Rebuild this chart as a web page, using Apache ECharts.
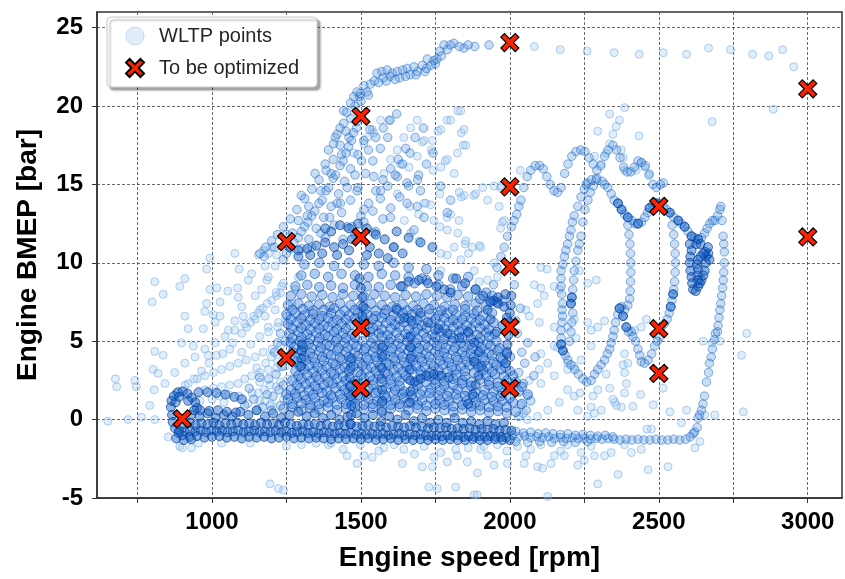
<!DOCTYPE html>
<html>
<head>
<meta charset="utf-8">
<script src="https://cdn.jsdelivr.net/npm/echarts@6.0.0/dist/echarts.min.js"></script>
<style>
html,body{margin:0;padding:0;background:#fff;}
#chart{width:845px;height:579px;}
</style>
</head>
<body>
<div id="chart"></div>
<script>
// ---------------- DATA ----------------
const xTickLabels = [1000, 1500, 2000, 2500, 3000];
const xTickMarks = [750, 1000, 1250, 1500, 1750, 2000, 2250, 2500, 2750, 3000];
const yTickLabels = [-5, 0, 5, 10, 15, 20, 25];

// points to be optimized [rpm, bar]
const optimizePts = [[900,0.05],[1250,11.35],[1250,3.95],[1500,19.35],[1500,11.65],[1500,5.85],[1500,2.0],
  [2000,24.05],[2000,14.85],[2000,9.75],[2000,5.9],[2000,2.0],[2500,13.6],[2500,5.8],[2500,2.95],[3000,21.1],[3000,11.65]];

// WLTP operating points, grouped by region
const bandLow = [
 [930,0.3],[958,0.2],[985,0.4],[1012,0.1],[1040,0.3],[1068,0.2],[1095,0.5],[1122,0.3],[1150,0.6],[1178,0.2],[1205,0.4],[1232,0.1],[1260,0.3],[1290,0.5],[1318,0.2],[1345,0.4],[1372,0.1],[1400,0.3],[1428,0.0],[1455,0.2],[1485,0.4],[1512,0.1],[1540,0.3],[1568,-0.1],[1595,0.2],[1622,0.0],[1650,0.3],[1678,-0.1],[1705,0.1],[1732,-0.2],[1760,0.0],[1788,-0.2],[1815,0.1],[1842,-0.2],[1870,-0.1],[1898,-0.3],[1925,-0.1],[1952,-0.3],[1980,-0.2],
 [905,-0.3],[925,-0.2],[945,-0.35],[965,-0.25],[985,-0.3],[1005,-0.2],[1025,-0.35],[1045,-0.25],[1065,-0.3],[1085,-0.2],[1105,-0.3],[1125,-0.25],[1145,-0.35],[1165,-0.2],[1185,-0.3],[1205,-0.25],[1225,-0.35],[1245,-0.2],[1265,-0.3],[1285,-0.4],[1305,-0.3],[1325,-0.35],[1345,-0.3],[1365,-0.4],[1385,-0.3],[1405,-0.45],[1425,-0.35],[1445,-0.4],[1465,-0.3],[1485,-0.45],[1505,-0.4],[1525,-0.35],[1545,-0.45],[1565,-0.4],[1585,-0.5],[1605,-0.4],[1625,-0.45],[1645,-0.5],[1665,-0.4],[1685,-0.5],[1705,-0.45],[1725,-0.55],[1745,-0.5],[1765,-0.55],[1785,-0.5],[1805,-0.6],[1825,-0.55],[1845,-0.6],[1865,-0.55],[1885,-0.65],[1905,-0.6],[1925,-0.65],[1945,-0.6],[1965,-0.7],[1985,-0.65],[2005,-0.7],
 [890,-0.7],[908,-0.75],[926,-0.7],[944,-0.75],[962,-0.7],[980,-0.8],[998,-0.7],[1016,-0.75],[1034,-0.7],[1052,-0.8],[1070,-0.75],[1088,-0.7],[1106,-0.8],[1124,-0.75],[1142,-0.7],[1160,-0.8],[1178,-0.75],[1196,-0.8],[1214,-0.7],[1232,-0.8],[1250,-0.75],[1268,-0.85],[1286,-0.8],[1304,-0.75],[1322,-0.85],[1340,-0.8],[1358,-0.9],[1376,-0.8],[1394,-0.85],[1412,-0.9],[1430,-0.85],[1448,-0.9],[1466,-0.85],[1484,-0.95],[1502,-0.9],[1520,-0.95],[1538,-0.9],[1556,-0.95],[1574,-0.9],[1592,-1.0],[1610,-0.95],[1628,-0.9],[1646,-1.0],[1664,-0.95],[1682,-1.0],[1700,-0.95],[1718,-1.0],[1736,-1.05],[1754,-1.0],[1772,-1.05],[1790,-1.0],[1808,-1.05],[1826,-1.0],[1844,-1.1],[1862,-1.05],[1880,-1.1],[1898,-1.05],[1916,-1.1],[1934,-1.05],[1952,-1.1],[1970,-1.1],[1988,-1.15],
 [900,-1.0],[925,-1.1],[950,-1.05],[975,-1.15],[1000,-1.1],[1025,-1.05],[1050,-1.15],[1075,-1.1],[1100,-1.2],[1125,-1.1],[1150,-1.15],[1175,-1.1],[1200,-1.2],[1225,-1.15],[1250,-1.1],[1275,-1.2],[1300,-1.15],[1325,-1.2],[1350,-1.15],[1375,-1.2],[1400,-1.25],[1425,-1.2],[1450,-1.25],[1475,-1.2],[1500,-1.25],[1525,-1.2],[1550,-1.3],[1575,-1.25],[1600,-1.2],[1625,-1.3],[1650,-1.25],[1675,-1.3],[1700,-1.25],[1725,-1.3],[1750,-1.25],[1775,-1.3],[1800,-1.25],[1825,-1.3],[1850,-1.3],[1875,-1.25],[1900,-1.3],[1925,-1.3],[1950,-1.25],[1975,-1.3],[2000,-1.3]
];

const bandRight = [
 [2010,-1.0],[2030,-1.1],[2050,-1.05],[2070,-1.15],[2090,-1.1],[2110,-1.15],[2130,-1.1],[2150,-1.2],[2170,-1.15],[2190,-1.2],[2210,-1.15],[2230,-1.2],[2250,-1.2],[2270,-1.25],[2290,-1.2],[2310,-1.25],[2330,-1.2],[2350,-1.25],[2370,-1.3],[2390,-1.25],[2410,-1.3],[2430,-1.25],[2450,-1.3],[2470,-1.3],[2490,-1.25],[2510,-1.3],[2530,-1.3],[2550,-1.25],[2570,-1.3],[2590,-1.25],[2605,-1.1],[2615,-0.9],
 [2020,-0.75],[2045,-0.85],[2070,-0.8],[2095,-0.9],[2120,-0.85],[2145,-0.9],[2170,-0.95],[2195,-0.9],[2220,-1.0],[2245,-0.95],[2270,-1.0],[2295,-1.05],[2320,-1.0],[2345,-1.1],[2020,-1.4],[2060,-1.45],[2100,-1.4],[2140,-1.45],[2180,-1.4],[2220,-1.45],[2260,-1.4]
];

const loopIdle = [
 [862,0.8],[864,1.2],[872,1.5],[886,1.75],[902,1.8],[918,1.65],[932,1.4],[944,1.1],[950,0.75],[866,0.3],[868,-0.15],[876,-0.55],[888,-0.85],
 [878,1.1],[890,1.45],[920,1.2],[940,0.6],[955,1.75],[985,1.75],[1015,1.7],[1045,1.6],[1075,1.45],[1100,1.3],
 [960,0.6],[990,0.55],[1020,0.6],[1050,0.5],[1080,0.45],[880,-1.2],[905,-1.3],[930,-1.25]
];

const fanLeft = [
 [650,-0.1],[676,2.6],[680,2.1],[718,0.0],[763,0.15],[741,2.5],[746,2.1],[808,4.35],[836,4.1],[802,3.2],[819,2.95],[806,1.9],[842,2.3],[791,0.9],[808,0.0],[898,4.9],[937,4.7],[987,4.1],
 [808,8.8],[836,8.0],[799,7.5],[892,8.5],[909,9.0],[909,6.6],[920,5.8],[971,5.8],[993,10.3],[982,9.6],[993,8.3],[1016,8.4],[1053,8.2],[1088,7.8],[1086,8.4],[1077,10.6],[1091,9.6],[1027,7.5],[982,7.4],[976,6.9],[1004,6.7],[1027,6.6],[1010,6.2],[1055,5.7],[1077,6.3],[1100,7.2],[1122,8.9],[1133,9.3],[1145,7.9],[1167,8.3],[1184,8.9],[1161,7.0],[1105,6.6],[1116,5.9],[1145,6.4],[1178,6.6],[1212,7.0],[1217,7.9],[1234,8.5],[1189,5.9],[1223,6.2],[1251,6.6],[1268,7.4],[1279,8.3],[1290,9.1],[1156,10.5],[1173,10.8],[1201,11.0],[1189,10.6],[1217,10.5],[1178,9.8],[1212,9.8],[1189,9.1],
 [875,3.0],[909,3.6],[943,4.0],[976,4.5],[1010,4.9],[1044,5.3],[1077,5.7],[1110,6.1],[1140,6.6],[1170,7.1],[1200,7.6],[1230,8.1],
 [920,2.3],[950,2.6],[976,2.8],[1005,3.0],[1032,3.2],[1060,3.4],[1088,3.6],[1115,3.8],[1145,4.0],[1172,4.3],[1201,4.5],[1230,4.7],[1257,4.9],
 [976,1.9],[1005,2.0],[1032,2.1],[1060,2.2],[1088,2.3],[1110,2.6],[1133,2.8],[1160,3.0],[1189,3.2],[1218,3.3],[1246,3.4],
 [880,1.7],[910,2.2],[940,2.6],[965,3.1],[990,3.6],[1015,4.1],[1036,4.2],[1070,4.9],[1100,5.5],[1130,6.2],[1155,6.8],[1185,7.4],[1215,8.1],[1240,8.7],
 [960,1.2],[1000,1.3],[1040,1.1],[1120,1.0],[1160,1.2],[1200,1.0],[1240,1.3],[1135,1.7],[1175,1.9],[1215,2.1],[1100,4.3],[1130,4.8],[1160,5.3],[1190,5.6],[1220,5.9],[1245,6.2],[1060,4.5],[1200,4.0],[1240,4.1],[1180,3.6],[1220,3.7],[1150,3.3],[1255,2.6],[1230,2.4],[1195,2.2],[1160,2.4],[1090,1.5],[1055,1.6],[1025,1.5],[1156,1.7],[1178,1.2],[1195,0.9]
];

const coreEdge = [
 [1110,0.9],[1140,1.3],[1170,0.8],[1205,1.5],[1230,0.9],[1125,2.0],[1160,2.7],[1190,2.6],[1215,2.9],[1240,2.2],[1185,1.6],[1225,1.9],[1150,0.6],[1200,0.6],[1235,3.4],[1210,4.3],[1245,5.0],[1230,5.5],[1220,4.9],
 [2030,3.0],[2050,3.6],[2040,4.3],[2060,4.9],[2025,5.5],[2045,2.3],[2070,1.2],[2080,2.8],[2085,4.0],[2030,0.2],[2055,0.6],[2020,6.3],[2035,7.1],[2015,8.6]
];

const massCore = [
 [1240,0.7],[1270,0.8],[1300,0.6],[1330,0.75],[1360,0.65],[1390,0.8],[1420,0.6],[1450,0.7],[1480,0.8],[1510,0.65],[1540,0.75],[1570,0.6],[1600,0.7],[1630,0.8],[1660,0.6],[1690,0.7],[1720,0.55],[1750,0.7],[1780,0.6],[1810,0.5],[1840,0.65],[1870,0.5],[1900,0.6],[1930,0.45],[1960,0.55],[1990,0.4],[2020,0.5],
 [1255,1.3],[1285,1.4],[1315,1.25],[1345,1.35],[1375,1.2],[1405,1.4],[1435,1.3],[1465,1.25],[1495,1.4],[1525,1.3],[1555,1.2],[1585,1.35],[1615,1.25],[1645,1.4],[1675,1.3],[1705,1.2],[1735,1.35],[1765,1.25],[1795,1.15],[1825,1.3],[1855,1.2],[1885,1.1],[1915,1.25],[1945,1.15],[1975,1.2],[2010,1.1],[2040,1.0],
 [1265,1.9],[1295,2.0],[1325,1.85],[1355,1.95],[1385,1.8],[1415,2.0],[1445,1.9],[1475,1.85],[1525,1.95],[1555,1.85],[1585,2.0],[1615,1.9],[1645,1.8],[1675,1.95],[1705,1.85],[1735,2.0],[1765,1.9],[1795,1.8],[1825,1.95],[1855,1.85],[1885,1.75],[1915,1.9],[1945,1.8],[1975,1.7],[2030,1.8],[2060,1.6],
 [1270,2.5],[1300,2.6],[1330,2.45],[1360,2.55],[1390,2.4],[1420,2.6],[1450,2.5],[1480,2.45],[1510,2.6],[1540,2.5],[1570,2.4],[1600,2.55],[1630,2.45],[1660,2.6],[1690,2.5],[1720,2.4],[1750,2.55],[1780,2.45],[1810,2.6],[1840,2.5],[1870,2.4],[1900,2.55],[1930,2.45],[1960,2.35],[1990,2.5],[2020,2.4],
 [1280,3.1],[1310,3.2],[1340,3.05],[1370,3.15],[1400,3.0],[1430,3.2],[1460,3.1],[1490,3.05],[1520,3.2],[1550,3.1],[1580,3.0],[1610,3.15],[1640,3.05],[1670,3.2],[1700,3.1],[1730,3.0],[1760,3.15],[1790,3.05],[1820,3.2],[1850,3.1],[1880,3.0],[1910,3.15],[1940,3.05],[1970,3.2],[2000,3.1],
 [1285,3.7],[1315,3.8],[1345,3.65],[1375,3.75],[1405,3.6],[1435,3.8],[1465,3.7],[1495,3.65],[1525,3.8],[1555,3.7],[1585,3.6],[1615,3.75],[1645,3.65],[1675,3.8],[1705,3.7],[1735,3.6],[1765,3.75],[1795,3.65],[1825,3.8],[1855,3.7],[1885,3.6],[1915,3.75],[1945,3.65],[1975,3.8],
 [1270,4.3],[1300,4.4],[1330,4.25],[1360,4.35],[1390,4.2],[1420,4.4],[1450,4.3],[1480,4.25],[1510,4.4],[1540,4.3],[1570,4.2],[1600,4.35],[1630,4.25],[1660,4.4],[1690,4.3],[1720,4.2],[1750,4.35],[1780,4.25],[1810,4.4],[1840,4.3],[1870,4.2],[1900,4.35],[1930,4.25],[1960,4.4],[1990,4.3],
 [1265,4.9],[1295,5.0],[1325,4.85],[1355,4.95],[1385,4.8],[1415,5.0],[1445,4.9],[1475,4.85],[1505,5.0],[1535,4.9],[1565,4.8],[1595,4.95],[1625,4.85],[1655,5.0],[1685,4.9],[1715,4.8],[1745,4.95],[1775,4.85],[1805,5.0],[1835,4.9],[1865,4.8],[1895,4.95],[1925,4.85],[1955,5.0],
 [1260,5.5],[1290,5.6],[1320,5.45],[1350,5.55],[1380,5.4],[1410,5.6],[1440,5.5],[1470,5.45],[1530,5.6],[1560,5.5],[1590,5.4],[1620,5.55],[1650,5.45],[1680,5.6],[1710,5.5],[1740,5.4],[1770,5.55],[1800,5.45],[1830,5.6],[1860,5.5],[1890,5.4],[1920,5.55],[1950,5.45],
 [1255,6.1],[1285,6.2],[1315,6.05],[1345,6.15],[1375,6.0],[1405,6.2],[1435,6.1],[1465,6.05],[1495,6.2],[1525,6.1],[1555,6.0],[1585,6.15],[1615,6.05],[1645,6.2],[1675,6.1],[1705,6.0],[1735,6.15],[1765,6.05],[1795,6.2],[1825,6.1],[1855,6.0],[1885,6.15],[1915,6.05],[1945,6.2],
 [1250,6.7],[1280,6.8],[1310,6.65],[1340,6.75],[1370,6.6],[1400,6.8],[1430,6.7],[1460,6.65],[1490,6.8],[1520,6.7],[1550,6.6],[1580,6.75],[1610,6.65],[1640,6.8],[1670,6.7],[1700,6.6],[1730,6.75],[1760,6.65],[1790,6.8],[1820,6.7],[1850,6.6],[1880,6.75],[1910,6.65],[1940,6.8],
 [1255,7.3],[1290,7.4],[1325,7.25],[1360,7.35],[1395,7.2],[1430,7.4],[1465,7.3],[1500,7.25],[1535,7.4],[1570,7.3],[1605,7.2],[1640,7.35],[1675,7.25],[1710,7.4],[1745,7.3],[1780,7.2],[1815,7.35],[1850,7.25],[1885,7.4],[1920,7.3],[1955,7.5],
 [1265,7.9],[1300,8.0],[1335,7.85],[1370,7.95],[1405,7.8],[1440,8.0],[1475,7.9],[1510,7.85],[1545,8.0],[1580,7.9],[1615,7.8],[1650,7.95],[1685,7.85],[1720,8.0],[1755,7.9],[1790,7.8],[1825,7.95],[1860,7.85],[1900,7.7],[1940,7.9],[1975,7.6],
 [1280,8.5],[1320,8.6],[1360,8.45],[1400,8.55],[1440,8.4],[1480,8.6],[1520,8.5],[1560,8.45],[1600,8.6],[1640,8.5],[1680,8.7],[1720,8.9],[1760,8.6],[1800,8.3],[1840,8.5],[1885,8.3],[1920,8.1],
 [1300,9.2],[1345,9.3],[1390,9.1],[1435,9.3],[1480,9.2],[1525,9.1],[1570,9.3],[1615,9.2],[1660,9.1],[1705,9.0],[1760,9.2],[1810,9.0],[1860,9.1],
 [1310,9.9],[1360,10.0],[1410,9.8],[1460,10.0],[1510,9.9],[1560,9.8],[1610,10.0],[1660,9.7],[1720,9.6]
];

const massCoreFill = [
 [1270,1.0],[1300,1.05],[1330,0.95],[1360,1.0],[1390,1.1],[1420,0.95],[1450,1.0],[1480,1.05],[1510,0.95],[1540,1.0],[1570,1.1],[1600,0.95],[1630,1.0],[1660,1.05],[1690,0.95],[1720,0.9],[1750,1.0],[1780,0.95],[1810,0.85],[1840,0.95],[1870,0.85],[1900,0.9],[1930,0.8],[1960,0.85],[1990,0.8],
 [1250,1.6],[1280,1.65],[1310,1.55],[1340,1.6],[1370,1.7],[1400,1.55],[1430,1.6],[1460,1.65],[1490,1.55],[1520,1.6],[1550,1.7],[1580,1.55],[1610,1.6],[1640,1.65],[1670,1.55],[1700,1.6],[1730,1.7],[1760,1.55],[1790,1.5],[1820,1.6],[1850,1.5],[1880,1.45],[1910,1.55],[1940,1.45],[1970,1.5],[2000,1.4],
 [1285,2.2],[1315,2.25],[1345,2.15],[1375,2.2],[1405,2.3],[1435,2.15],[1465,2.2],[1495,2.25],[1540,2.2],[1600,2.25],[1630,2.15],[1690,2.2],[1750,2.25],[1780,2.15],[1810,2.2],[1840,2.3],[1870,2.15],[1930,2.2],[1960,2.1],[1990,2.15],[2040,2.1],
 [1290,2.8],[1320,2.85],[1350,2.75],[1380,2.8],[1410,2.9],[1440,2.75],[1500,2.85],[1530,2.75],[1560,2.8],[1590,2.9],[1620,2.75],[1650,2.8],[1700,2.85],[1730,2.75],[1760,2.8],[1820,2.85],[1850,2.75],[1920,2.8],[1950,2.9],[1980,2.75],[2010,2.8],
 [1295,3.4],[1325,3.45],[1355,3.35],[1385,3.4],[1415,3.5],[1445,3.35],[1475,3.4],[1505,3.45],[1535,3.35],[1565,3.4],[1595,3.5],[1625,3.35],[1655,3.4],[1685,3.45],[1715,3.35],[1745,3.4],[1775,3.5],[1805,3.35],[1835,3.4],[1865,3.45],[1895,3.35],[1925,3.4],[1955,3.5],[1985,3.35],
 [1280,4.0],[1310,4.05],[1340,3.95],[1370,4.0],[1400,4.1],[1430,3.95],[1460,4.0],[1490,4.05],[1520,3.95],[1550,4.0],[1580,4.1],[1610,3.95],[1640,4.0],[1670,4.05],[1700,3.95],[1730,4.0],[1760,4.1],[1790,3.95],[1820,4.0],[1850,4.05],[1880,3.95],[1910,4.0],[1940,4.1],[1970,3.95],[2000,4.0],
 [1275,4.6],[1305,4.65],[1335,4.55],[1365,4.6],[1395,4.7],[1425,4.55],[1455,4.6],[1485,4.65],[1515,4.55],[1545,4.6],[1575,4.7],[1605,4.55],[1635,4.6],[1665,4.65],[1695,4.55],[1725,4.6],[1755,4.7],[1785,4.55],[1815,4.6],[1845,4.65],[1875,4.55],[1905,4.6],[1935,4.7],[1965,4.55],
 [1270,5.2],[1300,5.25],[1330,5.15],[1360,5.2],[1390,5.3],[1420,5.15],[1450,5.2],[1480,5.25],[1540,5.2],[1570,5.3],[1600,5.15],[1630,5.2],[1660,5.25],[1690,5.15],[1720,5.2],[1750,5.3],[1780,5.15],[1810,5.2],[1840,5.25],[1870,5.15],[1900,5.2],[1930,5.3],
 [1270,5.8],[1300,5.85],[1330,5.75],[1360,5.8],[1390,5.9],[1420,5.75],[1450,5.8],[1540,5.85],[1570,5.75],[1600,5.8],[1630,5.9],[1660,5.75],[1690,5.8],[1720,5.85],[1750,5.75],[1780,5.8],[1810,5.9],[1840,5.75],[1870,5.8],[1900,5.85],[1930,5.75],
 [1265,6.4],[1300,6.45],[1330,6.35],[1360,6.4],[1390,6.5],[1420,6.35],[1450,6.4],[1480,6.45],[1510,6.35],[1540,6.4],[1570,6.5],[1600,6.35],[1630,6.4],[1660,6.45],[1690,6.35],[1750,6.4],[1780,6.5],[1810,6.35],[1840,6.4],[1870,6.45],[1900,6.35],
 [1270,7.0],[1305,7.05],[1340,6.95],[1375,7.0],[1410,7.1],[1445,6.95],[1480,7.0],[1515,7.05],[1550,6.95],[1585,7.0],[1620,7.1],[1655,6.95],[1690,7.0],[1730,7.05],[1770,6.95],[1810,7.0],[1850,7.05],[1890,6.95]
];

const darkStreaks = [
 [1465,-0.3],[1467,0.3],[1468,0.9],[1466,1.5],[1464,2.1],[1462,2.7],[1465,3.3],[1468,3.9],
 [1570,0.5],[1572,1.2],[1571,1.9],[1569,2.6],[1570,3.3],[1572,4.0],[1571,4.6],
 [1665,1.1],[1667,1.8],[1666,2.5],[1664,3.2],[1666,3.9],[1668,4.6],[1667,5.3],
 [1680,2.4],[1700,2.6],[1720,2.8],[1745,2.9],[1770,2.8],[1795,2.7],
 [1860,1.0],[1875,1.6],[1885,2.2],[1895,2.8],[1905,3.4],[1880,3.7],
 [1985,3.6],[1990,4.2],[1992,4.8],[1995,5.4],[1998,6.2],[2000,6.8],[2003,7.3],[1980,7.2],[1960,7.4],[1945,7.6],[1990,6.5],[1975,6.0],[1955,5.6],[1935,6.4],[1925,7.0],[2005,7.9],
 [1299,3.4],[1300,3.9],[1301,4.4],[1302,4.8],
 [1500,6.0],[1505,6.6],[1508,7.2],[1505,7.8],[1500,8.4],[1495,9.0],
 [1634,8.5],[1660,8.8],[1694,8.9],[1725,8.7],[1753,8.5],[1780,8.3],[1801,8.1],[1620,7.0],[1645,6.5],[1670,6.3],[1700,6.8],[1725,6.2],[1760,5.8],[1790,5.5],[1830,5.2],[1860,5.6],[1880,4.9],[1895,4.3],
 [1820,9.0],[1850,8.7],[1885,8.3],[1910,7.9],[1935,7.5],[1960,7.8],[1985,8.0],
 [1260,11.0],[1290,10.8],[1320,10.9],[1350,11.1],[1380,11.3],[1410,11.0],[1440,11.2],[1470,11.5],[1530,11.0],[1560,10.6],[1590,10.3],[1290,10.4],[1330,10.5],[1370,10.6],[1420,10.5],[1460,10.8],[1520,10.5],[1400,12.0],[1430,12.4],[1460,12.2],[1490,12.5],[1520,12.2],[1380,12.2],[1550,11.8],[1580,11.5],[1610,11.0],[1640,10.6],[1620,12.0],[1660,11.6],[1700,11.3],[1740,11.0]
];

const streaksUpper = [
 [1161,10.6],[1180,11.0],[1200,11.4],[1220,11.8],[1240,12.3],[1263,12.8],[1285,13.4],[1311,14.1],[1335,14.7],[1359,15.3],[1383,15.9],[1407,16.6],[1430,17.5],[1450,18.4],[1466,19.2],[1480,20.0],[1495,20.6],
 [1175,10.4],[1210,11.0],[1250,11.8],[1290,12.7],[1325,13.6],[1365,14.6],[1400,15.7],[1435,16.9],[1460,18.0],[1485,19.0],
 [1239,10.2],[1265,10.9],[1290,11.6],[1311,12.3],[1335,13.0],[1359,13.8],[1383,14.6],[1407,15.4],[1430,16.2],[1450,17.0],[1468,17.8],[1485,18.6],[1500,19.3],
 [1335,11.0],[1365,11.9],[1395,12.9],[1420,13.8],[1454,14.8],[1480,15.6],[1502,16.5],[1525,17.2],[1550,18.0],[1575,18.6],[1598,19.1],[1620,19.5],
 [1440,11.5],[1470,12.3],[1500,13.0],[1526,13.8],[1550,14.6],[1574,15.3],[1600,16.0],[1625,16.6],[1650,17.3],[1682,18.0],[1710,18.6],
 [1550,12.0],[1574,12.8],[1600,13.5],[1630,14.2],[1660,14.9],[1694,15.6],[1720,16.3],[1742,17.0],
 [1431,13.8],[1487,14.6],[1543,15.5],[1453,12.3],[1510,13.4],[1566,14.6],[1622,15.5],[1543,11.9],[1599,12.9],[1655,13.8],[1700,14.6],[1611,11.0],[1678,12.1],[1712,12.9],
 [1768,14.9],[1801,14.0],[1790,13.2],[1689,13.6],[1655,15.1],[1690,15.3],
 [1442,19.7],[1414,18.0],[1391,17.2],[1380,16.3],[1346,15.7],[1300,14.3],[1320,13.0],[1270,11.9],
 [1250,10.6],[1275,11.3],[1300,12.0],[1322,12.6],[1345,13.3],[1370,14.0],[1392,14.8],[1415,15.6],[1440,16.5],[1458,17.4],[1475,18.3],
 [1300,10.9],[1325,11.5],[1350,12.2],[1375,12.9],[1400,13.6],[1425,14.4],[1445,15.2],[1465,16.0],[1490,16.9],[1510,17.8],[1530,18.5],
 [1380,11.6],[1410,12.4],[1435,13.2],[1465,14.0],[1490,14.8],[1515,15.7],[1540,16.5],[1565,17.3],[1590,18.0],
 [1480,11.8],[1510,12.6],[1540,13.3],[1565,14.1],[1590,14.9],[1615,15.6],[1640,16.3],[1665,17.0]
];

const scatterUpper = [
 [1825,19.7],[1789,19.1],[1759,18.4],[1837,18.3],[1843,17.5],[1783,16.5],[1813,15.7],[1879,14.3],[1837,14.2],[1736,17.2],[1706,17.7],[1742,15.9],[1765,14.4],[1909,14.8],[1969,14.8],[2035,15.9],[1975,12.6],[1969,12.2],[1789,12.9],[1825,11.9],[1849,11.2],[1897,11.1],[1861,10.6],[1813,11.0],[1765,12.3],[1718,13.8],[1694,13.1],[1646,12.7],[1664,13.6],[1622,14.4],
 [1521,18.0],[1538,18.5],[1566,19.1],[1594,19.1],[1577,15.7],[1599,16.6],[1622,17.2],[1644,18.0],[1667,18.6],[1689,19.1],[1712,17.8],[1740,17.8],[1768,18.5],[1801,19.1],[1835,19.7],[1846,18.5],[1852,17.5],[1824,17.0],[1790,16.6],[1768,16.1],[1689,16.8],[1661,16.1],[1633,16.3],[1510,17.6],[1543,18.3],[1476,17.0]
];

const topTrace = [
 [1442,18.9],[1452,19.6],[1465,20.2],[1476,20.6],[1487,20.9],[1498,20.8],[1510,21.3],[1520,20.9],[1532,21.4],[1545,21.6],[1554,22.1],[1570,22.2],[1575,21.8],[1588,22.3],[1598,21.9],[1605,22.1],[1622,22.2],[1630,21.8],[1640,22.3],[1655,22.4],[1665,22.0],[1678,22.5],[1690,22.2],[1706,22.6],[1715,22.2],[1723,23.0],[1735,22.6],[1745,22.9],[1755,23.0],[1765,23.5],[1770,23.2],[1779,23.9],[1812,24.0],[1846,23.7],[1882,23.8],[1930,23.9],
 [1500,20.3],[1525,20.7],[1560,21.5],[1585,21.6],[1615,21.7],[1650,21.9],[1685,22.0],[1720,22.4],[1750,22.7],[1790,23.6],[1800,23.9],[1830,23.8],[1860,23.9],[1430,18.6],[1420,18.2],[1408,17.6]
];

const topSparse = [
 [2082,23.8],[2169,23.6],[2259,23.5],[2350,23.4],[2434,23.3],[2515,23.4],[2593,23.3],[2667,23.7],[2741,23.6],[2815,23.3],[2869,23.2],[2916,23.6],[2953,22.5],
 [2295,18.4],[2335,19.5],[2385,19.9],[2368,19.1],[2357,18.7],[2346,18.2],[2335,17.6],[2323,17.0],[2307,16.3],[2284,16.8],[2374,17.2],[2380,16.7],[2385,15.9],[2433,18.1],[2441,16.4],[2453,16.1],[2469,15.7],[2424,15.9],[2679,19.0],[2884,19.8]
];

const rightTraces = [
 [2047,14.8],[2058,15.5],[2070,15.9],[2085,16.2],[2100,16.2],[2112,16.0],[2124,15.5],[2135,15.0],[2148,14.6],[2160,14.5],[2172,14.8],[2184,15.7],[2195,16.3],[2208,16.8],[2222,17.1],[2238,17.2],[2252,17.1],[2266,16.7],[2280,16.3],[2292,15.9],[2305,16.2],[2318,16.8],[2330,17.2],[2346,17.5],[2358,17.2],[2370,16.7],[2382,16.1],[2394,15.8],[2406,15.8],[2418,16.1],[2430,16.5],[2442,16.4],[2455,16.2],[2467,15.6],[2480,15.0],[2492,14.8],[2505,15.0],[2515,15.1],
 [1933,7.6],[1945,8.6],[1957,9.7],[1970,10.4],[1981,11.0],[1992,11.7],[2005,12.3],[2014,12.7],[2023,13.1],[2030,13.6],[2037,14.0],
 [2261,15.1],[2250,14.7],[2239,14.2],[2228,13.6],[2216,13.0],[2210,12.6],[2205,12.1],[2200,11.7],[2194,11.2],[2188,10.8],[2183,10.4],[2178,9.9],[2172,9.5],[2172,9.0],[2172,8.5],[2174,8.0],[2177,7.4],[2175,7.0],[2177,6.6],[2175,6.2],[2172,5.7],[2172,5.2],[2172,4.8],[2178,4.4],[2186,4.1],
 [2290,15.3],[2280,14.9],[2270,14.5],[2262,14.0],[2252,13.4],[2245,12.6],[2239,11.7],[2233,11.2],[2228,10.8],[2222,10.1],[2216,9.5],[2214,8.9],[2211,8.3],[2208,7.8],[2205,7.4],[2211,6.8],[2208,6.2],[2205,5.6],[2200,5.0],
 [2256,15.0],[2274,15.3],[2292,15.4],[2310,15.2],[2318,15.0],[2329,14.8],[2340,14.4],[2350,14.0],[2363,13.8],[2375,13.4],[2385,13.1],[2396,12.9],[2410,12.7],[2420,12.5],[2430,12.5],[2442,12.6],[2453,12.9],[2462,13.2],[2469,13.5],[2480,13.7],[2490,13.8],[2500,13.8],[2515,13.6],[2526,13.4],[2537,13.2],[2550,12.9],[2565,12.7],[2576,12.5],[2587,12.3],[2598,12.0],[2610,11.7],[2621,11.6],[2632,11.5],[2643,11.6],[2654,11.9],[2662,12.2],[2671,12.5],[2680,12.7],[2688,12.7],[2697,13.0],[2705,13.4],[2708,13.6],
 [2712,12.7],[2716,11.7],[2718,11.2],[2720,10.7],[2720,10.0],[2718,9.4],[2716,8.9],[2714,8.4],[2711,7.9],[2708,7.4],[2705,7.0],[2702,6.5],[2699,6.0],[2697,5.6],[2690,5.5],[2687,5.1],[2680,4.5],[2676,4.0],[2670,3.6],[2667,3.0],[2660,2.4],[2653,1.5],[2648,1.0],[2643,0.6],[2637,0.3],[2632,0.1],[2629,-0.5],[2620,-0.8],
 [2545,12.4],[2550,11.8],[2553,11.2],[2555,10.6],[2556,10.0],[2555,9.4],[2553,8.8],[2550,8.3],[2548,8.0],[2544,7.6],[2540,7.2],[2535,6.8],[2528,6.4],[2518,6.1],[2508,5.9],[2503,5.3],[2495,5.0],[2486,4.7],[2476,4.2],[2464,3.8],[2452,3.6],[2441,3.7],[2436,4.1],[2430,4.5],[2422,5.0],[2413,5.3],[2408,5.6],
 [2396,12.4],[2400,11.8],[2403,11.2],[2405,10.6],[2406,10.0],[2406,9.4],[2405,8.8],[2404,8.2],[2402,7.7],[2396,7.3],[2385,7.0],[2375,7.2],[2368,7.1],[2380,6.6],[2391,5.9],[2398,5.6],
 [2273,2.5],[2284,2.9],[2295,3.2],[2306,3.5],[2318,3.8],[2327,4.2],[2335,4.5],[2340,4.9],[2346,5.3],[2350,5.7],[2355,6.2],[2362,6.7],
 [2195,3.8],[2205,3.5],[2218,3.2],[2230,2.9],[2245,2.6],[2258,2.4]
];

const miniLoop = [
 [2604,11.2],[2610,10.8],[2606,10.4],[2604,10.0],[2606,9.5],[2610,9.1],[2612,8.7],[2615,8.3],[2624,8.2],[2632,8.5],[2638,8.7],[2643,8.9],[2650,9.2],[2654,9.5],[2658,10.0],[2660,10.4],[2666,10.6],[2656,10.7],[2649,10.6],[2640,10.4],[2632,10.2],[2628,9.9],[2632,9.6],[2630,9.2],[2632,8.9],[2626,11.2],[2640,11.2],[2665,11.0],[2670,10.2],
 [2363,13.8],[2375,13.4],[2396,12.9],[2430,12.5],[2469,13.5],[2490,13.8],[2537,13.2],[2565,12.7],[2587,12.3],[2610,11.7],[2632,11.5],
 [2368,7.1],[2380,6.6],[2391,5.9],[2548,8.0],[2540,7.2],[2172,4.8],[2178,4.4],[2208,7.8],[2205,7.4]
];

const sparseRight = [
 [2037,0.95],[2104,4.2],[2149,4.7],[2160,4.6],[2127,3.6],[2099,3.2],[2065,2.5],[2060,1.5],[2104,2.3],[2149,2.8],[2194,3.2],[2215,3.4],[2239,3.8],[2273,4.7],[2194,1.9],[2216,1.5],[2235,1.7],[2166,1.1],[2127,0.6],[2093,0.2],[2059,0.0],[2045,0.4],[2228,0.6],[2273,0.8],[2261,0.2],[2222,5.2],[2194,3.6],
 [2104,9.7],[2125,9.6],[2082,8.6],[2104,8.4],[2149,8.5],[2115,7.9],[2093,7.4],[2054,7.0],[2065,6.6],[2099,6.2],[2149,5.9],[2194,5.9],[2216,6.4],[2261,6.2],[2261,8.7],[2233,9.5],[2166,8.3],[1958,9.1],[1947,10.0],
 [1970,14.9],[1981,12.7],[1964,13.6],[1947,14.9],[1925,14.0],[1885,14.4],[1846,14.3],[1830,14.5],[1801,13.1],[1790,12.1],[1829,12.7],[1852,11.4],[1874,11.0],[1902,11.0],[1734,13.7],[1712,13.8],[1745,12.7],[1695,11.4],[1667,11.9],[1768,10.6],[1790,10.5],[1835,10.2],[1768,9.5],[1880,9.5],[1897,8.8],[1925,8.9],
 [2385,4.2],[2380,3.5],[2385,3.0],[2391,2.3],[2385,1.7],[2374,0.8],[2307,0.6],[2284,0.4],[2514,2.0],[2537,0.5],[2593,0.6],[2654,0.3],[2688,0.3],[2778,4.1],[2784,0.5],[2795,5.5],[2439,1.6],[2481,0.95],[2413,0.85],[2323,2.9],[2295,1.9],[2279,1.5],[2335,2.0],[2396,3.6],[2352,1.1],[2346,1.3],[2358,0.9],[2419,5.7],[2290,8.9],[2458,6.4],[2441,5.9],[2318,6.3],[2295,5.9],[2273,5.7],[2649,5.0],[2679,4.9],[2705,5.0]
];

const sparseBelow = [
 [892,-1.7],[900,-1.8],[931,-1.8],[954,-1.5],[1032,-1.5],[1128,-1.5],[1195,-4.1],[1223,-4.4],[1240,-4.5],[853,-1.1],[1391,-1.6],[1400,-1.5],[1453,-2.3],[1487,-2.8],[1510,-2.3],[1538,-2.4],[1639,-2.8],[1644,-1.9],[1706,-3.0],[1740,-3.0],[1745,-2.4],[1768,-2.1],[1790,-2.7],[1818,-1.9],[1824,-2.3],[1857,-2.7],[1891,-3.4],[1902,-1.9],[1925,-2.3],[1947,-2.9],[1992,-2.8],[2054,-2.3],[2048,-2.8],[2093,-3.0],[2110,-3.1],[2138,-2.8],[2149,-2.3],[2183,-2.3],[2228,-2.9],[2239,-2.1],[1728,-4.3],[1756,-4.4],[1818,-4.3],[1880,-4.8],[1890,-4.8],[2127,-4.9],[1498,-1.6],[1577,-1.8],[1611,-1.6],[1712,-1.7],[1913,-1.7],[1958,-1.6],[2026,-1.7],[2104,-1.6],[2194,-1.6],[2273,-1.7],[2531,-3.0],[2464,-3.2],[2363,-3.5],[2295,-4.1],[2441,-1.9],[2408,-2.1],[2385,-1.6],[2340,-2.1],[2318,-2.3],[2284,-2.3],[2621,-1.8],[2638,-1.4],[2576,-0.2],[2475,-0.6],[2460,-0.6],[1440,-1.9],[1300,-1.6],[1250,-1.7],[1350,-1.5],[1560,-2.0],[1680,-2.2],[1860,-1.8],[1990,-2.0],[2070,-1.9],[2170,-2.0],[2250,-2.6]
];

// ---------------- CHART ----------------
const lightData = [].concat(fanLeft, scatterUpper, topSparse, sparseRight, sparseBelow);
const traceData = [].concat(streaksUpper, topTrace, rightTraces, coreEdge, bandRight);
const coreData = [].concat(massCore, massCoreFill);
const darkData = [].concat(bandLow, loopIdle, darkStreaks, miniLoop);
const xSymbol = 'path://M0,2L2,0L5,3L8,0L10,2L7,5L10,8L8,10L5,7L2,10L0,8L3,5Z';
const FONT = 'Liberation Sans, Arial, sans-serif';

function wltpSeries(data, size, fill, edge) {
  return {
    name: 'WLTP points', type: 'scatter', data: data, symbol: 'circle', symbolSize: size, z: 2,
    itemStyle: {color: fill, borderColor: edge, borderWidth: 1},
    emphasis: {disabled: true}
  };
}

const chart = echarts.init(document.getElementById('chart'), null, {renderer: 'canvas'});
chart.setOption({
  animation: false,
  backgroundColor: '#fff',
  grid: {left: 97, right: 3, top: 12, bottom: 81, show: true, borderColor: '#333', borderWidth: 1.5, backgroundColor: 'transparent'},
  legend: {
    orient: 'vertical', left: 107, top: 17,
    backgroundColor: '#fff', borderColor: '#c8c8c8', borderWidth: 1, borderRadius: 4,
    padding: [9, 18, 9, 18], itemGap: 12, itemWidth: 22, itemHeight: 18,
    shadowColor: 'rgba(0,0,0,0.35)', shadowBlur: 2, shadowOffsetX: 3, shadowOffsetY: 3,
    textStyle: {fontFamily: FONT, fontSize: 20, color: '#262626', padding: [0,0,0,8]},
    data: [
      {name: 'WLTP points', icon: 'circle', itemStyle: {color: '#dbe9f8', borderColor: '#b9d3f0', borderWidth: 1}},
      {name: 'To be optimized', icon: xSymbol}
    ]
  },
  xAxis: {
    type: 'value', min: 614, max: 3115,
    name: 'Engine speed [rpm]', nameLocation: 'middle', nameGap: 46,
    nameTextStyle: {fontFamily: FONT, fontSize: 28, fontWeight: 'bold', color: '#000'},
    axisLine: {show: true, onZero: false, lineStyle: {color: '#333', width: 1.5}},
    axisTick: {show: true, inside: false, length: 5, customValues: xTickMarks, lineStyle: {color: '#333', width: 1}},
    axisLabel: {customValues: xTickLabels, formatter: function (v) { return String(v); }, fontFamily: FONT, fontSize: 24, fontWeight: 'bold', color: '#000', margin: 12},
    splitLine: {show: true, lineStyle: {color: '#444', width: 0.8, type: [3, 2]}}
  },
  yAxis: {
    type: 'value', min: -5, max: 26,
    name: 'Engine BMEP [bar]', nameLocation: 'middle', nameGap: 55, nameRotate: 90,
    nameTextStyle: {fontFamily: FONT, fontSize: 28, fontWeight: 'bold', color: '#000'},
    axisLine: {show: true, onZero: false, lineStyle: {color: '#333', width: 1.5}},
    axisTick: {show: true, inside: false, length: 5, customValues: yTickLabels, lineStyle: {color: '#333', width: 1}},
    axisLabel: {customValues: yTickLabels, formatter: function (v) { return String(v); }, fontFamily: FONT, fontSize: 24, fontWeight: 'bold', color: '#000', margin: 14},
    splitLine: {show: true, lineStyle: {color: '#444', width: 0.8, type: [3, 2]}}
  },
  series: [
    wltpSeries(lightData, 8, 'rgba(160,200,240,0.4)', 'rgba(100,160,225,0.6)'),
    wltpSeries(traceData, 8.5, 'rgba(60,135,220,0.34)', 'rgba(20,95,195,0.62)'),
    wltpSeries(coreData, 9.5, 'rgba(25,105,210,0.42)', 'rgba(0,70,175,0.7)'),
    wltpSeries(darkData, 9, 'rgba(10,90,195,0.55)', 'rgba(0,55,150,0.85)'),
    {
      name: 'To be optimized', type: 'scatter', data: optimizePts, symbol: xSymbol, symbolSize: 18, z: 5,
      itemStyle: {color: '#ff2200', borderColor: '#000', borderWidth: 1.2, opacity: 1},
      emphasis: {disabled: true}
    }
  ]
});
</script>
</body>
</html>
